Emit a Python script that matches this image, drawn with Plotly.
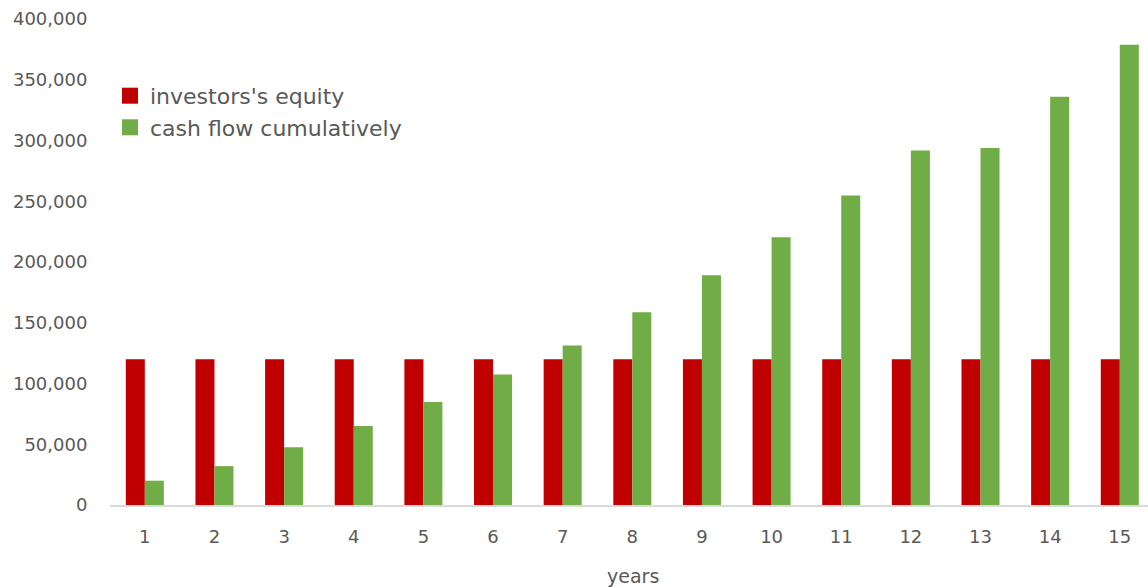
import plotly.graph_objects as go

years = list(range(1, 16))
investors_equity = [120000] * 15
cash_flow_cumulative = [20000, 32000, 47500, 65000, 84700, 107500, 131300, 158700,
                        189000, 220400, 254700, 291700, 293800, 336000, 378800]
series_names = ["investors's equity", "cash flow cumulatively"]

RED = "#c00000"
GREEN = "#70ad47"
TEXT = "#595959"
FONT = "DejaVu Sans"

fig = go.Figure()
fig.add_bar(x=years, y=investors_equity, name=series_names[0], showlegend=False,
            marker=dict(color=RED, line=dict(width=0)))
fig.add_bar(x=years, y=cash_flow_cumulative, name=series_names[1], showlegend=False,
            marker=dict(color=GREEN, line=dict(width=0)))

# legend entries with larger square swatches
for name, color in zip(series_names, [RED, GREEN]):
    fig.add_scatter(x=[None], y=[None], mode="markers", name=name,
                    marker=dict(symbol="square", size=16, color=color))

fig.update_layout(
    width=1148, height=587,
    margin=dict(l=110, r=0, t=19, b=82),
    paper_bgcolor="white", plot_bgcolor="white",
    barmode="group", bargap=0.454, bargroupgap=0,
    font=dict(family=FONT, size=18, color=TEXT),
    showlegend=True,
    legend=dict(x=0.0, y=0.885, xanchor="left", yanchor="top",
                xref="paper", yref="paper",
                bgcolor="rgba(0,0,0,0)", font=dict(size=22, color=TEXT),
                tracegroupgap=0, itemwidth=30),
    xaxis=dict(
        range=[0.5, 15.405], tickmode="array", tickvals=years,
        ticktext=[str(y) for y in years],
        showgrid=False, zeroline=False,
        showline=True, linecolor="#d9d9d9", linewidth=2,
        ticks="outside", ticklen=14, tickcolor="rgba(0,0,0,0)",
        tickfont=dict(size=18, color=TEXT),
    ),
    yaxis=dict(
        range=[0, 400000], tickmode="array",
        tickvals=list(range(0, 400001, 50000)),
        ticktext=[f"{v:,}" for v in range(0, 400001, 50000)],
        showgrid=False, zeroline=False, showline=False,
        ticks="outside", ticklen=18, tickcolor="rgba(0,0,0,0)",
        tickfont=dict(size=18, color=TEXT),
    ),
    annotations=[dict(text="years", xref="paper", yref="paper",
                      x=0.504, y=-0.146, xanchor="center", yanchor="middle",
                      showarrow=False, font=dict(size=19, color=TEXT))],
)

fig.write_html("out.html")
